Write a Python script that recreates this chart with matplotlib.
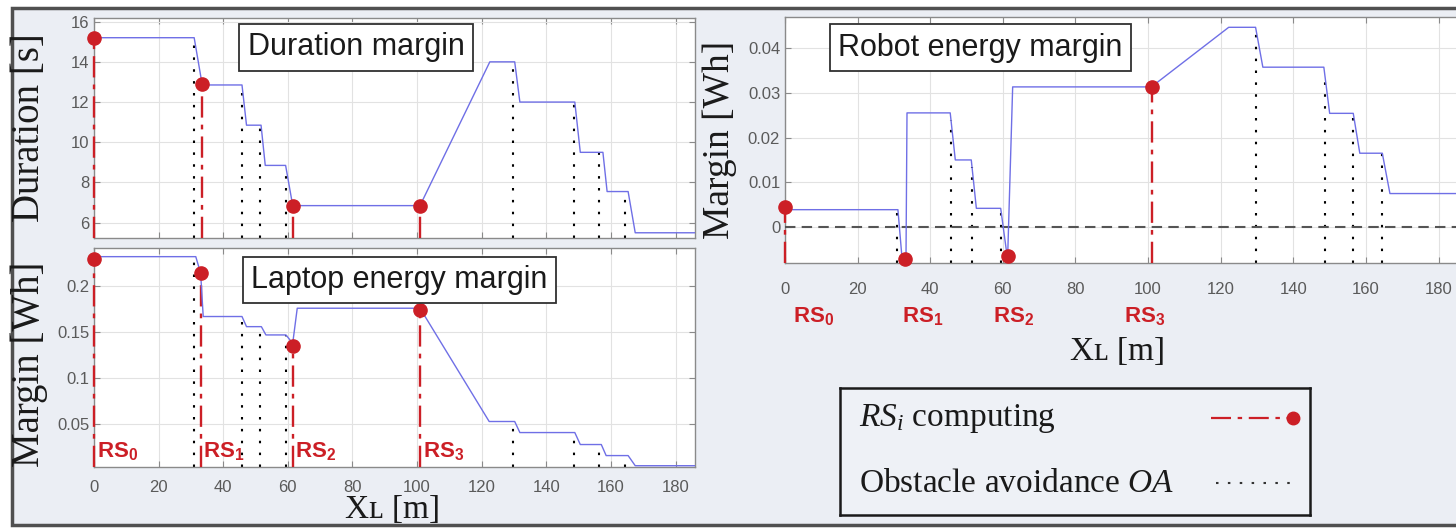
import matplotlib.pyplot as plt
import matplotlib.patches as patches
from matplotlib.ticker import FormatStrFormatter
import numpy as np

# distance along the path [m]
oa_x = [30.8, 45.7, 51.5, 59.4, 129.8, 148.6, 156.3, 164.4]

# duration margin [s]
dur_x = [0, 31.0, 33.5, 45.8, 47.2, 51.7, 53.0, 59.3, 61.5, 100.9, 122.5, 130.2,
         131.8, 148.8, 150.5, 157.5, 158.8, 165.3, 167.5, 186]
dur_y = [15.2, 15.2, 12.85, 12.85, 10.85, 10.85, 8.85, 8.85, 6.85, 6.85, 14.0, 14.0,
         12.0, 12.0, 9.5, 9.5, 7.55, 7.55, 5.5, 5.5]
dur_rs_x = [0, 33.5, 61.5, 100.9]
dur_rs_y = [15.2, 12.9, 6.85, 6.85]

# laptop energy margin [Wh]
lap_x = [0, 31.5, 33.0, 33.8, 45.8, 47.2, 51.8, 53.2, 59.4, 61.5, 62.9, 100.9, 122.3,
         130.2, 131.8, 148.8, 150.5, 157.0, 158.5, 165.3, 167.5, 186]
lap_y = [0.232, 0.232, 0.214, 0.167, 0.167, 0.156, 0.156, 0.147, 0.147, 0.138, 0.176,
         0.176, 0.053, 0.053, 0.041, 0.041, 0.028, 0.028, 0.016, 0.016, 0.005, 0.005]
lap_rs_x = [0, 33.0, 61.5, 100.9]
lap_rs_y = [0.229, 0.214, 0.135, 0.174]

# robot energy margin [Wh]
rob_x = [0, 31.1, 32.5, 33.3, 33.6, 45.5, 46.9, 51.3, 52.7, 59.4, 61.3, 62.7, 100.9,
         122.2, 129.6, 131.6, 148.4, 150.0, 156.5, 158.3, 164.5, 166.6, 187]
rob_y = [0.0039, 0.0039, -0.0095, -0.0095, 0.0255, 0.0255, 0.0150, 0.0150, 0.0042,
         0.0042, -0.0072, 0.0313, 0.0313, 0.0446, 0.0446, 0.0357, 0.0357, 0.0254,
         0.0254, 0.0165, 0.0165, 0.0075, 0.0075]
rob_rs_x = [0, 33.0, 61.3, 101.2]
rob_rs_y = [0.0045, -0.0071, -0.0064, 0.0312]

rs_labels = [r'$\mathbf{RS_0}$', r'$\mathbf{RS_1}$', r'$\mathbf{RS_2}$', r'$\mathbf{RS_3}$']
rob_label_x = [8, 38, 63, 99]

plt.rcParams['font.family'] = ['Liberation Sans', 'DejaVu Sans']
plt.rcParams['mathtext.fontset'] = 'custom'
plt.rcParams['mathtext.rm'] = 'Liberation Serif'
plt.rcParams['mathtext.it'] = 'Liberation Serif:italic'
plt.rcParams['mathtext.bf'] = 'Liberation Sans:bold'

SERIF = ['Liberation Serif', 'DejaVu Serif']
BLUE = '#6f6fe6'
RED = '#cc1f26'
W, H = 1456, 531


def px(l, t, r, b):
    return [l / W, 1 - b / H, (r - l) / W, (b - t) / H]


def style(ax, xmax, ylim, yticks):
    ax.set_facecolor('white')
    ax.set_xlim(0, xmax)
    ax.set_ylim(*ylim)
    ax.set_xticks(range(0, 181, 20))
    ax.set_yticks(yticks)
    ax.yaxis.set_major_formatter(FormatStrFormatter('%g'))
    ax.grid(True, color='#e2e2e2', lw=0.8)
    ax.set_axisbelow(True)
    for s in ax.spines.values():
        s.set_color('#8a8a8a')
        s.set_linewidth(1.0)
    ax.tick_params(direction='in', length=4, color='#8a8a8a', labelcolor='#5a5a5a',
                   labelsize=12, top=True, right=True)


def draw_curve(ax, cx, cy, rs_x, rs_y):
    ymin = ax.get_ylim()[0]
    for x in oa_x:
        ax.plot([x, x], [ymin, np.interp(x, cx, cy)], color='black', lw=1.5,
                linestyle=(0, (1.2, 4.5)), zorder=2)
    for x, y in zip(rs_x, rs_y):
        ax.plot([x, x], [ymin, y], color=RED, lw=1.7, linestyle=(0, (9, 3, 2, 3)),
                zorder=3, clip_on=False)
    ax.plot(cx, cy, color=BLUE, lw=1.0, zorder=4)
    ax.plot(rs_x, rs_y, 'o', color=RED, ms=9.5, zorder=5, clip_on=False)


def title_box(ax, x, y, txt):
    ax.text(x, y, txt, transform=ax.transAxes, ha='center', va='center', fontsize=22,
            color='#1a1a1a', zorder=6,
            bbox=dict(boxstyle='square,pad=0.27', fc='white', ec='#303030', lw=1.3))


fig = plt.figure(figsize=(W / 100, H / 100), dpi=100)
fig.patch.set_facecolor('white')
frame = patches.Rectangle((12 / W, 1 - 525 / H), 1.1, 517 / H, transform=fig.transFigure,
                          fc='#ebeef4', ec='#505050', lw=2.5, zorder=-1)
fig.add_artist(frame)

# duration margin
ax_dur = fig.add_axes(px(94, 18, 695, 238))
style(ax_dur, 186, (5.24, 16.18), range(6, 17, 2))
ax_dur.tick_params(labelbottom=False)
draw_curve(ax_dur, dur_x, dur_y, dur_rs_x, dur_rs_y)
title_box(ax_dur, 0.436, 0.866, 'Duration margin')
ax_dur.set_ylabel('Duration [s]', family=SERIF, fontsize=28, color='#1a1a1a')
ax_dur.yaxis.set_label_coords(-0.076, 0.5)

# laptop energy margin
ax_lap = fig.add_axes(px(94, 248, 695, 467))
style(ax_lap, 186, (0.0036, 0.2414), [0.05, 0.1, 0.15, 0.2])
ax_lap.tick_params(axis='x', pad=9)
draw_curve(ax_lap, lap_x, lap_y, lap_rs_x, lap_rs_y)
title_box(ax_lap, 0.508, 0.854, 'Laptop energy margin')
for x, lab in zip(lap_rs_x, rs_labels):
    ax_lap.text(x + 0.8, 0.02, lab, color=RED, fontsize=16, ha='left', va='center', zorder=6)
ax_lap.set_ylabel('Margin [Wh]', family=SERIF, fontsize=28, color='#1a1a1a')
ax_lap.yaxis.set_label_coords(-0.076, 0.47)
ax_lap.set_xlabel('Xʟ [m]', family=SERIF, fontsize=24, color='#1a1a1a')
ax_lap.xaxis.set_label_coords(0.497, -0.125)

# robot energy margin
ax_rob = fig.add_axes(px(785, 17, 1464, 263))
style(ax_rob, 187, (-0.008, 0.0469), [0, 0.01, 0.02, 0.03, 0.04])
ax_rob.tick_params(axis='x', pad=14)
ax_rob.axhline(0, color='#555555', lw=1.5, linestyle=(0, (5, 3)), zorder=3)
draw_curve(ax_rob, rob_x, rob_y, rob_rs_x, rob_rs_y)
title_box(ax_rob, 0.288, 0.876, 'Robot energy margin')
for x, lab in zip(rob_label_x, rs_labels):
    ax_rob.text(x, -0.22, lab, color=RED, fontsize=16, ha='center', va='center',
                transform=ax_rob.get_xaxis_transform())
ax_rob.set_ylabel('Margin [Wh]', family=SERIF, fontsize=27, color='#1a1a1a')
ax_rob.yaxis.set_label_coords(-0.07, 0.5)
ax_rob.set_xlabel('Xʟ [m]', family=SERIF, fontsize=24, color='#1a1a1a')
ax_rob.xaxis.set_label_coords(0.49, -0.3)

# legend box
ax_leg = fig.add_axes(px(840, 388, 1310, 515))
ax_leg.set_facecolor('#eef1f6')
ax_leg.set_xlim(0, 1)
ax_leg.set_ylim(0, 1)
ax_leg.set_xticks([])
ax_leg.set_yticks([])
for s in ax_leg.spines.values():
    s.set_color('#1a1a1a')
    s.set_linewidth(1.8)
ax_leg.text(0.04, 0.76, r'$RS_i$ computing', family=SERIF, fontsize=24, va='center',
            color='#1a1a1a')
ax_leg.text(0.04, 0.25, r'Obstacle avoidance $OA$', family=SERIF, fontsize=24,
            va='center', color='#1a1a1a')
ax_leg.plot([0.79, 0.96], [0.76, 0.76], color=RED, lw=1.6, linestyle=(0, (9, 3, 2, 3)))
ax_leg.plot([0.963], [0.76], 'o', color=RED, ms=9)
ax_leg.plot([0.80, 0.965], [0.25, 0.25], color='#333333', lw=1.5, linestyle=(0, (1.2, 4.5)))

fig.savefig('out.png', dpi=100, facecolor=fig.get_facecolor())
plt.close(fig)
